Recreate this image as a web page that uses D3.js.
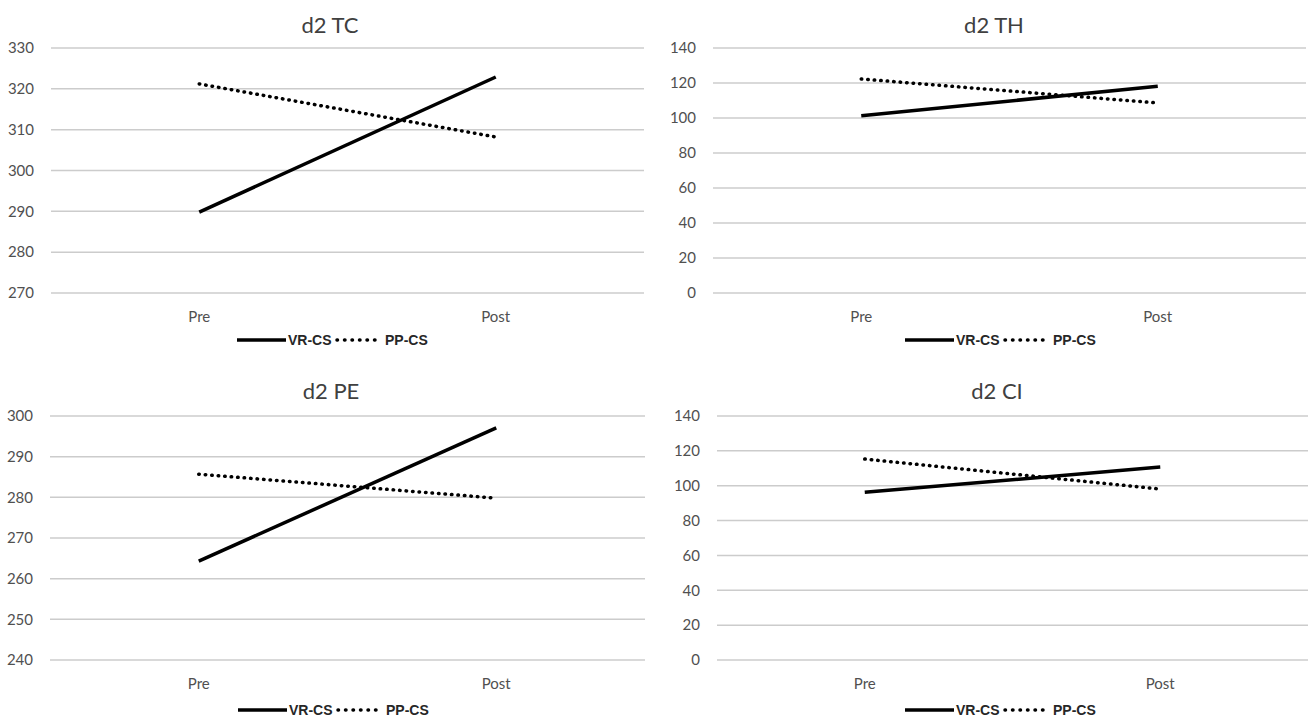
<!DOCTYPE html>
<meta charset="utf-8">

<style>
  body { margin: 0; background: #fff; }
  .grid line { stroke: #cccccc; stroke-width: 1.5px; }
  .tick-label { font-family: Lato, sans-serif; font-size: 15px; fill: #505050; }
  .title { font-family: Lato, sans-serif; font-size: 22px; fill: #404040; }
  .legend text { font-family: "Liberation Sans", Arial, sans-serif; font-size: 14px; font-weight: bold; fill: #262626; }
</style>

<svg width="1310" height="717"></svg>

<script src="https://d3js.org/d3.v7.min.js"></script>
<script>
// ====================================================================
const categories = ["Pre", "Post"]
const seriesNames = ["VR-CS", "PP-CS"]

const titles = ["d2 TC", "d2 TH", "d2 PE", "d2 CI"]

// values per panel: [VR-CS, PP-CS], each [Pre, Post]
const tcValues = [[289.8, 322.9], [321.2, 308.2]]
const thValues = [[101.3, 118.1], [122.3, 108.6]]
const peValues = [[264.3, 297.1], [285.7, 279.8]]
const ciValues = [[96.2, 110.7], [115.3, 98.1]]

// y axis ticks per panel
const tcTicks = [270, 280, 290, 300, 310, 320, 330]
const thTicks = [0, 20, 40, 60, 80, 100, 120, 140]
const peTicks = [240, 250, 260, 270, 280, 290, 300]
const ciTicks = [0, 20, 40, 60, 80, 100, 120, 140]

// ====================================================================
const svg = d3.select("svg")

// layout of the four small charts
const panels = [
  {title: titles[0], values: tcValues, ticks: tcTicks, x0: 51, x1: 644, yTop: 48, yBot: 293, titleX: 330, titleY: 33, legX: 337, legY: 340, catY: 322},
  {title: titles[1], values: thValues, ticks: thTicks, x0: 713, x1: 1306, yTop: 48, yBot: 293, titleX: 994, titleY: 33, legX: 1005, legY: 340, catY: 322},
  {title: titles[2], values: peValues, ticks: peTicks, x0: 50, x1: 645, yTop: 416, yBot: 660, titleX: 331, titleY: 399, legX: 338, legY: 710, catY: 689},
  {title: titles[3], values: ciValues, ticks: ciTicks, x0: 717, x1: 1308, yTop: 416, yBot: 660, titleX: 997, titleY: 399, legX: 1005, legY: 710, catY: 689}
]

const lineStyles = [
  {width: 3.5, dash: null, cap: "butt"},
  {width: 3.5, dash: "0.5,6", cap: "round"}
]

panels.forEach(p => {
  const g = svg.append("g")

  const x = d3.scalePoint()
    .domain(categories)
    .range([p.x0, p.x1])
    .padding(0.5)

  const y = d3.scaleLinear()
    .domain(d3.extent(p.ticks))
    .range([p.yBot, p.yTop])

  //gridlines
  g.append("g")
    .attr("class", "grid")
    .selectAll("line")
    .data(p.ticks)
    .enter()
    .append("line")
    .attr("x1", p.x0)
    .attr("x2", p.x1)
    .attr("y1", d => y(d))
    .attr("y2", d => y(d))

  //y tick labels
  g.append("g")
    .selectAll("text")
    .data(p.ticks)
    .enter()
    .append("text")
    .attr("class", "tick-label")
    .attr("x", p.x0 - 17)
    .attr("y", d => y(d))
    .attr("dy", "0.35em")
    .attr("text-anchor", "end")
    .text(d => d)

  //category labels
  g.append("g")
    .selectAll("text")
    .data(categories)
    .enter()
    .append("text")
    .attr("class", "tick-label")
    .attr("x", d => x(d))
    .attr("y", p.catY)
    .attr("text-anchor", "middle")
    .text(d => d)

  //title
  g.append("text")
    .attr("class", "title")
    .attr("x", p.titleX)
    .attr("y", p.titleY)
    .attr("text-anchor", "middle")
    .text(p.title)

  //series lines
  const line = d3.line()
    .x((d, i) => x(categories[i]))
    .y(d => y(d))

  g.append("g")
    .selectAll("path")
    .data(p.values)
    .enter()
    .append("path")
    .attr("d", d => line(d))
    .attr("fill", "none")
    .attr("stroke", "#000")
    .attr("stroke-width", (d, i) => lineStyles[i].width)
    .attr("stroke-linecap", (d, i) => lineStyles[i].cap)
    .attr("stroke-dasharray", (d, i) => lineStyles[i].dash)

  //legend: sample line + label for each series
  const leg = g.append("g")
    .attr("class", "legend")
    .attr("transform", `translate(${p.legX - 100},${p.legY})`)

  const itemOffsets = [0, 97]
  seriesNames.forEach((name, i) => {
    const it = leg.append("g").attr("transform", `translate(${itemOffsets[i]},0)`)
    it.append("line")
      .attr("x1", i ? 3 : 0).attr("x2", i ? 47 : 49)
      .attr("y1", 0).attr("y2", 0)
      .attr("stroke", "#000")
      .attr("stroke-width", lineStyles[i].width)
      .attr("stroke-linecap", lineStyles[i].cap)
      .attr("stroke-dasharray", i ? "0.5,7" : null)
    it.append("text")
      .attr("x", 51)
      .attr("y", 0)
      .attr("dy", "0.36em")
      .text(name)
  })
})
</script>
